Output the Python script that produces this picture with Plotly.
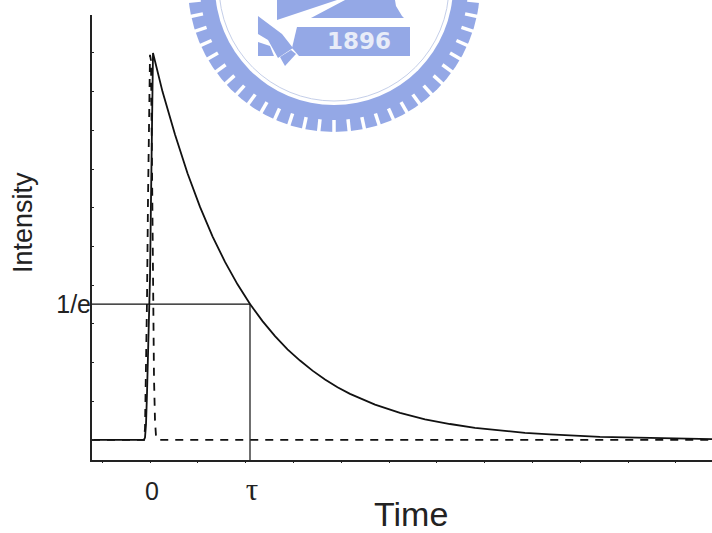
import math
import plotly.graph_objects as go

# Data
solid_t = [-0.58, -0.10, -0.06, -0.05, -0.04, -0.03, -0.02, -0.01, 0.0, 0.01, 0.02, 0.03, 0.125, 0.25, 0.375, 0.5, 0.625, 0.75, 0.875, 1.0, 1.125, 1.25, 1.375, 1.5, 1.625, 1.75, 1.875, 2.0, 2.25, 2.5, 2.75, 3.0, 3.25, 3.5, 3.75, 4.0, 4.5, 5.0, 5.62]
solid_i = [0.0, 0.0, 0.0, 0.006, 0.04, 0.12, 0.22, 0.31, 0.42, 0.62, 0.85, 1.0, 0.90, 0.789, 0.689, 0.602, 0.526, 0.460, 0.402, 0.351, 0.307, 0.268, 0.234, 0.205, 0.179, 0.156, 0.136, 0.119, 0.091, 0.070, 0.053, 0.041, 0.031, 0.024, 0.018, 0.014, 0.008, 0.005, 0.002]
dash_t = [-0.58, -0.06, -0.05, -0.04, -0.03, -0.02, -0.01, 0.0, 0.01, 0.02, 0.03, 0.04, 0.05, 0.06, 0.08, 0.12, 5.62]
dash_i = [0.0, 0.0, 0.03, 0.16, 0.36, 0.62, 0.86, 0.995, 0.98, 0.72, 0.36, 0.16, 0.05, 0.01, 0.0, 0.0, 0.0]
marker_t = [-0.58, 1.0, 1.0]
marker_i = [0.351, 0.351, -0.052]
x_tick_vals = [0, 1]
x_tick_text = ["0", '<span style="font-family:Liberation Serif;font-size:31px">τ</span>']
y_tick_vals = [0.351]
y_tick_text = ["1/e"]

W, H = 712, 533
L, T, B = 92, 15, 460
BLUE = "#94a8e6"
FONT = "Liberation Sans, Arial, sans-serif"

fig = go.Figure()
fig.add_trace(go.Scatter(x=marker_t, y=marker_i, mode="lines", line=dict(color="#111", width=1.2), hoverinfo="skip"))
fig.add_trace(go.Scatter(x=dash_t, y=dash_i, mode="lines", line=dict(color="#111", width=1.8, dash="8px,7px"), hoverinfo="skip"))
fig.add_trace(go.Scatter(x=solid_t, y=solid_i, mode="lines", line=dict(color="#111", width=1.8), hoverinfo="skip"))

# University seal watermark, positioned in page pixels
def px(x):
    return (x - L) / (W - L)
def py(y):
    return 1 - (y - T) / (B - T)
CX, CY = 334, -14
shapes = []
def circle(r, **kw):
    shapes.append(dict(type="circle", xref="paper", yref="paper", x0=px(CX - r), x1=px(CX + r), y0=py(CY + r), y1=py(CY - r), layer="below", **kw))
def poly(points, color=BLUE):
    path = "M" + "L".join(f"{px(x):.4f},{py(y):.4f}" for x, y in points) + "Z"
    shapes.append(dict(type="path", xref="paper", yref="paper", path=path, fillcolor=color, line=dict(width=0), layer="below"))
circle(146, fillcolor=BLUE, line=dict(width=0))
for i in range(60):
    a = i * 2 * math.pi / 60
    shapes.append(dict(type="line", xref="paper", yref="paper", layer="below",
                       x0=px(CX + 134 * math.cos(a)), y0=py(CY + 134 * math.sin(a)),
                       x1=px(CX + 149 * math.cos(a)), y1=py(CY + 149 * math.sin(a)),
                       line=dict(color="white", width=3.5)))
circle(119, fillcolor="white", line=dict(width=0))
circle(115, fillcolor="rgba(0,0,0,0)", line=dict(width=1, color="#c5cfe9"))
poly([(277, 0), (337, 0), (277, 20)])
poly([(311, 18), (345, 0), (395, 0), (396, 6), (402, 16), (404, 18)])
poly([(297, 27), (410, 27), (410, 56), (299, 56), (292, 48)])
poly([(258, 16), (282, 34), (293, 48), (278, 58), (268, 40), (258, 34)])
poly([(258, 42), (270, 46), (274, 56), (258, 56)])
poly([(280, 57), (291, 50), (296, 54), (285, 66)])

fig.update_layout(
    width=W, height=H, autosize=False, showlegend=False,
    paper_bgcolor="white", plot_bgcolor="rgba(0,0,0,0)",
    margin=dict(l=L, r=0, t=T, b=H - B),
    font=dict(family=FONT, color="#222"),
    shapes=shapes,
    annotations=[
        dict(text="<b>1896</b>", xref="paper", yref="paper", x=px(359), y=py(41), showarrow=False,
             xanchor="center", yanchor="middle",
             font=dict(size=23, color="#e8ecf8", family="DejaVu Sans, sans-serif")),
        dict(text="Time", xref="paper", yref="paper", x=px(411), y=py(514), showarrow=False,
             xanchor="center", yanchor="middle",
             font=dict(size=34, family=FONT, color="#222")),
        dict(text="Intensity", xref="paper", yref="paper", x=px(23), y=py(223), showarrow=False, textangle=-90,
             xanchor="center", yanchor="middle",
             font=dict(size=27, family=FONT, color="#222")),
    ],
)
fig.update_xaxes(range=[-0.58, 5.62], showgrid=False, zeroline=False, showline=True, linecolor="#222", linewidth=2,
                 tickvals=x_tick_vals, ticktext=x_tick_text, ticks="", ticklabelstandoff=8, ticklabelshift=2,
                 tickfont=dict(size=25, family=FONT, color="#222"),
                 minor=dict(ticks="outside", ticklen=1, tickcolor="#222", tick0=0, dtick=0.478, showgrid=False))
fig.update_yaxes(range=[-0.052, 1.098], showgrid=False, zeroline=False, showline=True, linecolor="#222", linewidth=2,
                 tickvals=y_tick_vals, ticktext=y_tick_text, ticks="", ticklabelstandoff=-6,
                 tickfont=dict(size=25, family=FONT, color="#222"),
                 minor=dict(ticks="inside", ticklen=2, tickcolor="#222", tick0=0, dtick=0.1, showgrid=False))
fig.write_html("out.html", config=dict(displayModeBar=False),
               post_script="document.documentElement.style.overflow='hidden';document.body.style.margin='0';")
